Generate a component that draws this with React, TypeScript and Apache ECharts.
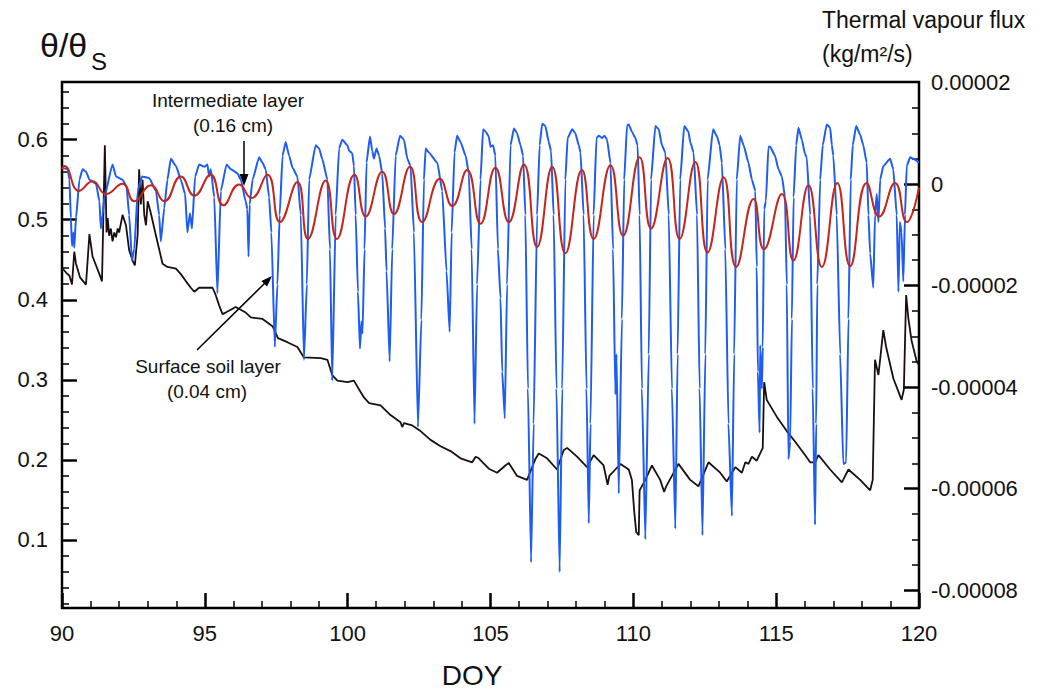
import React, { useEffect, useRef } from "react";
import * as echarts from "echarts";

// Surface soil layer (0.04 cm) – blue, [DOY, θ/θs]
const surfaceLayer: [number, number][] = [
  [90.0, 0.565], [90.2, 0.563], [90.26, 0.55], [90.31, 0.502], [90.35, 0.467], [90.4, 0.484], [90.43, 0.465], [90.49, 0.502], [90.61, 0.55], [90.72, 0.563], [90.84, 0.56], [90.96, 0.55],
  [91.19, 0.545], [91.31, 0.523], [91.36, 0.489], [91.42, 0.506], [91.48, 0.528], [91.77, 0.569], [91.89, 0.554], [92.12, 0.55], [92.26, 0.541], [92.35, 0.506], [92.45, 0.449], [92.53, 0.463],
  [92.65, 0.536], [92.8, 0.554], [93.05, 0.552], [93.29, 0.536], [93.4, 0.506], [93.46, 0.473], [93.58, 0.515], [93.69, 0.55], [93.81, 0.576], [93.99, 0.567], [94.16, 0.55], [94.31, 0.532],
  [94.39, 0.484], [94.48, 0.508], [94.55, 0.489], [94.66, 0.554], [94.8, 0.569], [94.98, 0.566], [95.09, 0.569], [95.15, 0.554], [95.21, 0.563], [95.33, 0.528], [95.44, 0.408], [95.56, 0.536],
  [95.76, 0.569], [95.91, 0.563], [96.14, 0.558], [96.26, 0.55], [96.43, 0.523], [96.49, 0.513], [96.53, 0.454], [96.57, 0.519], [96.67, 0.55], [96.9, 0.578], [97.02, 0.571], [97.13, 0.563],
  [97.25, 0.528], [97.33, 0.484], [97.45, 0.341], [97.54, 0.419], [97.62, 0.506], [97.72, 0.58], [97.83, 0.597], [97.95, 0.58], [98.07, 0.565], [98.24, 0.554], [98.36, 0.506], [98.47, 0.325],
  [98.57, 0.419], [98.65, 0.55], [98.88, 0.593], [99.0, 0.589], [99.11, 0.576], [99.29, 0.55], [99.38, 0.463], [99.46, 0.299], [99.58, 0.506], [99.7, 0.589], [99.81, 0.6], [99.99, 0.593],
  [100.05, 0.586], [100.16, 0.583], [100.22, 0.567], [100.28, 0.506], [100.36, 0.41], [100.43, 0.339], [100.48, 0.373], [100.52, 0.358], [100.59, 0.463], [100.66, 0.571], [100.78, 0.604],
  [100.86, 0.586], [100.92, 0.576], [101.01, 0.589], [101.1, 0.58], [101.21, 0.558], [101.31, 0.489], [101.36, 0.436], [101.47, 0.323], [101.56, 0.463], [101.68, 0.58], [101.83, 0.605],
  [101.97, 0.6], [102.09, 0.576], [102.2, 0.567], [102.32, 0.484], [102.46, 0.241], [102.58, 0.375], [102.67, 0.55], [102.73, 0.589], [102.84, 0.584], [103.14, 0.571], [103.31, 0.536],
  [103.46, 0.436], [103.57, 0.36], [103.64, 0.484], [103.74, 0.584], [103.83, 0.605], [103.95, 0.597], [104.13, 0.58], [104.24, 0.558], [104.34, 0.463], [104.44, 0.245], [104.53, 0.419],
  [104.65, 0.55], [104.74, 0.613], [104.83, 0.61], [104.94, 0.604], [105.0, 0.591], [105.09, 0.593], [105.17, 0.58], [105.26, 0.463], [105.35, 0.402], [105.41, 0.31], [105.5, 0.252],
  [105.58, 0.419], [105.7, 0.593], [105.82, 0.614], [105.93, 0.608], [106.05, 0.593], [106.14, 0.58], [106.22, 0.506], [106.31, 0.289], [106.42, 0.072], [106.51, 0.245], [106.63, 0.506],
  [106.72, 0.593], [106.81, 0.62], [106.92, 0.617], [107.04, 0.597], [107.12, 0.586], [107.21, 0.506], [107.31, 0.289], [107.42, 0.06], [107.51, 0.289], [107.62, 0.55], [107.7, 0.602],
  [107.86, 0.613], [107.97, 0.608], [108.09, 0.593], [108.15, 0.584], [108.26, 0.506], [108.36, 0.289], [108.44, 0.121], [108.5, 0.245], [108.61, 0.506], [108.71, 0.602], [108.79, 0.605],
  [108.9, 0.602], [108.99, 0.605], [109.08, 0.6], [109.2, 0.571], [109.29, 0.463], [109.37, 0.282], [109.41, 0.332], [109.49, 0.158], [109.6, 0.376], [109.68, 0.55], [109.78, 0.618],
  [109.84, 0.619], [109.95, 0.61], [110.07, 0.602], [110.15, 0.593], [110.22, 0.506], [110.3, 0.289], [110.42, 0.101], [110.54, 0.332], [110.62, 0.55], [110.77, 0.617], [110.89, 0.613],
  [111.0, 0.593], [111.12, 0.584], [111.24, 0.506], [111.35, 0.289], [111.47, 0.114], [111.55, 0.332], [111.64, 0.55], [111.78, 0.617], [111.93, 0.61], [111.99, 0.597], [112.11, 0.584],
  [112.23, 0.506], [112.32, 0.289], [112.42, 0.106], [112.52, 0.332], [112.6, 0.55], [112.79, 0.613], [112.93, 0.604], [113.02, 0.593], [113.1, 0.571], [113.22, 0.463], [113.33, 0.245],
  [113.45, 0.13], [113.53, 0.332], [113.62, 0.55], [113.74, 0.605], [113.86, 0.593], [114.03, 0.571], [114.15, 0.55], [114.27, 0.536], [114.32, 0.441], [114.36, 0.31], [114.42, 0.234],
  [114.44, 0.343], [114.5, 0.289], [114.53, 0.341], [114.58, 0.513], [114.64, 0.523], [114.73, 0.591], [114.79, 0.591], [114.96, 0.58], [115.08, 0.563], [115.2, 0.554], [115.31, 0.528],
  [115.37, 0.419], [115.43, 0.201], [115.49, 0.223], [115.55, 0.376], [115.61, 0.528], [115.7, 0.593], [115.78, 0.615], [115.9, 0.6], [116.01, 0.582], [116.07, 0.578], [116.19, 0.506],
  [116.28, 0.289], [116.36, 0.119], [116.4, 0.245], [116.44, 0.419], [116.54, 0.55], [116.63, 0.593], [116.77, 0.619], [116.89, 0.615], [116.95, 0.593], [117.0, 0.58], [117.12, 0.506],
  [117.24, 0.332], [117.35, 0.195], [117.45, 0.197], [117.53, 0.376], [117.61, 0.55], [117.68, 0.593], [117.8, 0.617], [117.94, 0.606], [118.05, 0.593], [118.17, 0.571], [118.23, 0.506],
  [118.29, 0.458], [118.4, 0.415], [118.46, 0.506], [118.52, 0.532], [118.58, 0.497], [118.64, 0.55], [118.75, 0.567], [118.99, 0.576], [119.1, 0.563], [119.22, 0.506], [119.28, 0.41],
  [119.33, 0.497], [119.39, 0.484], [119.45, 0.423], [119.51, 0.506], [119.57, 0.567], [119.69, 0.578], [119.8, 0.576], [120.0, 0.571],
];

// Intermediate layer (0.16 cm) – red, daily extremes [DOY, θ/θs]
const intermediateLayer: [number, number][] = [
  [90.0, 0.563], [90.08, 0.567], [90.6, 0.536], [91.07, 0.548], [91.54, 0.532], [92.12, 0.545], [92.53, 0.523], [93.11, 0.543], [93.58, 0.523], [94.16, 0.554], [94.63, 0.53],
  [95.2, 0.556], [95.65, 0.518], [96.2, 0.544], [96.63, 0.527], [97.19, 0.556], [97.63, 0.497], [98.24, 0.547], [98.61, 0.476], [99.23, 0.549], [99.62, 0.476],
  [100.24, 0.556], [100.63, 0.504], [101.21, 0.56], [101.62, 0.507], [102.18, 0.566], [102.61, 0.497], [103.23, 0.551], [103.66, 0.517], [104.18, 0.562], [104.65, 0.495],
  [105.17, 0.565], [105.64, 0.497], [106.17, 0.569], [106.63, 0.466], [107.16, 0.566], [107.62, 0.458], [108.2, 0.562], [108.61, 0.476], [109.2, 0.568], [109.64, 0.48],
  [110.22, 0.578], [110.62, 0.489], [111.2, 0.577], [111.62, 0.476], [112.17, 0.572], [112.6, 0.459], [113.16, 0.553], [113.6, 0.441], [114.21, 0.526], [114.57, 0.463],
  [115.2, 0.532], [115.6, 0.449], [116.13, 0.543], [116.6, 0.441], [117.14, 0.546], [117.59, 0.442], [118.17, 0.546], [118.61, 0.504], [119.16, 0.546], [119.57, 0.497], [120.0, 0.54],
];

// Black curve [DOY, value on left scale]
const blackCurve: [number, number][] = [
  [90.0, 0.44], [90.14, 0.434], [90.26, 0.43], [90.35, 0.419], [90.43, 0.46], [90.49, 0.445], [90.63, 0.428], [90.84, 0.419], [90.96, 0.482], [91.07, 0.454], [91.31, 0.432], [91.4, 0.423],
  [91.5, 0.593], [91.56, 0.484], [91.6, 0.502], [91.65, 0.48], [91.71, 0.489], [91.77, 0.473], [91.83, 0.484], [91.89, 0.478], [91.95, 0.489], [92.0, 0.484], [92.12, 0.506], [92.24, 0.493],
  [92.35, 0.462], [92.47, 0.449], [92.55, 0.443], [92.65, 0.482], [92.7, 0.563], [92.76, 0.519], [92.82, 0.55], [92.88, 0.506], [92.94, 0.493], [93.0, 0.523], [93.11, 0.508], [93.29, 0.48],
  [93.52, 0.445], [93.69, 0.441], [93.99, 0.439], [94.16, 0.432], [94.34, 0.423], [94.51, 0.415], [94.63, 0.41], [94.8, 0.415], [95.27, 0.415], [95.38, 0.406], [95.5, 0.393], [95.62, 0.382],
  [95.73, 0.384], [96.08, 0.391], [96.43, 0.384], [96.61, 0.378], [97.02, 0.376], [97.37, 0.367], [97.56, 0.352], [97.89, 0.347], [98.24, 0.341], [98.47, 0.328], [99.06, 0.327], [99.29, 0.325],
  [99.46, 0.306], [99.64, 0.299], [99.99, 0.297], [100.22, 0.299], [100.4, 0.288], [100.57, 0.278], [100.75, 0.271], [101.15, 0.268], [101.5, 0.256], [101.85, 0.247], [101.91, 0.241],
  [101.97, 0.246], [102.26, 0.243], [102.55, 0.236], [102.9, 0.225], [103.25, 0.217], [103.6, 0.211], [103.95, 0.202], [104.36, 0.197], [104.48, 0.204], [104.59, 0.202], [104.94, 0.189],
  [105.23, 0.184], [105.52, 0.193], [105.64, 0.196], [105.93, 0.18], [106.28, 0.175], [106.57, 0.201], [106.69, 0.208], [106.98, 0.202], [107.33, 0.188], [107.56, 0.212], [107.68, 0.215],
  [108.03, 0.204], [108.38, 0.191], [108.61, 0.206], [108.96, 0.193], [109.1, 0.169], [109.16, 0.18], [109.37, 0.188], [109.55, 0.195], [109.84, 0.188], [109.95, 0.175], [110.03, 0.136],
  [110.1, 0.11], [110.19, 0.106], [110.22, 0.162], [110.42, 0.175], [110.65, 0.193], [110.94, 0.175], [111.08, 0.16], [111.15, 0.167], [111.58, 0.195], [111.99, 0.175], [112.28, 0.167],
  [112.63, 0.197], [113.04, 0.184], [113.27, 0.173], [113.57, 0.191], [113.8, 0.184], [113.92, 0.197], [114.03, 0.195], [114.15, 0.204], [114.32, 0.199], [114.53, 0.215], [114.58, 0.297],
  [114.67, 0.275], [115.02, 0.254], [115.37, 0.236], [115.66, 0.223], [116.01, 0.206], [116.19, 0.197], [116.36, 0.197], [116.48, 0.206], [116.89, 0.188], [117.3, 0.172], [117.53, 0.188],
  [117.94, 0.175], [118.29, 0.162], [118.38, 0.175], [118.46, 0.325], [118.58, 0.306], [118.75, 0.362], [118.85, 0.341], [119.1, 0.302], [119.39, 0.275], [119.47, 0.288], [119.55, 0.406],
  [119.63, 0.376], [119.74, 0.349], [119.92, 0.323], [120.0, 0.318],
];

// Axis tick values
const thetaLabels = [0.1, 0.2, 0.3, 0.4, 0.5, 0.6];
const thetaMinor = [0.02, 0.04, 0.06, 0.08, 0.12, 0.14, 0.16, 0.18, 0.22, 0.24, 0.26, 0.28, 0.32, 0.34, 0.36, 0.38, 0.42, 0.44, 0.46, 0.48, 0.52, 0.54, 0.56, 0.58, 0.62, 0.64, 0.66];
const fluxLabels = [0.00002, 0, -0.00002, -0.00004, -0.00006, -0.00008];
const fluxMajor = [0, -0.00002, -0.00004, -0.00006, -0.00008];
const fluxMinor = [0.000015, 0.00001, 0.000005, -0.000005, -0.00001, -0.000015, -0.000025, -0.00003, -0.000035, -0.000045, -0.00005, -0.000055, -0.000065, -0.00007, -0.000075];

const FONT = "'Liberation Sans', Arial, Helvetica, sans-serif";

export default function App() {
  const ref = useRef<HTMLDivElement>(null);
  useEffect(() => {
    if (!ref.current) return;
    const chart = echarts.init(ref.current, undefined, { renderer: "svg" });
    const thetaMin = 0.015, thetaMax = 0.672;
    const fluxMin = -0.0000835, fluxMax = 0.0000201;
    const labelStyle = { color: "#111", fontSize: 22, fontFamily: FONT };
    const annot = { fontSize: 19, fontFamily: FONT, fill: "#111", align: "center", verticalAlign: "middle" };
    chart.setOption({
      animation: false,
      backgroundColor: "#fff",
      grid: { left: 62, top: 82, width: 857, height: 526, show: true, borderColor: "#000", borderWidth: 2.5, backgroundColor: "transparent" },
      xAxis: {
        type: "value", min: 90, max: 120, interval: 5,
        axisLine: { show: false, onZero: false },
        splitLine: { show: false },
        axisTick: { show: true, inside: true, length: 15, lineStyle: { color: "#000", width: 2.5 } },
        minorTick: { show: true, splitNumber: 5, length: 7, lineStyle: { color: "#000", width: 1.5 } },
        axisLabel: { ...labelStyle, margin: 14 },
      },
      yAxis: [
        {
          type: "value", position: "left", min: thetaMin, max: thetaMax,
          axisLine: { show: false, onZero: false }, splitLine: { show: false },
          axisTick: { show: true, inside: true, length: 15, customValues: thetaLabels, lineStyle: { color: "#000", width: 2.5 } },
          axisLabel: { ...labelStyle, margin: 14, customValues: thetaLabels, formatter: (v: number) => v.toFixed(1) },
        },
        {
          type: "value", position: "left", min: thetaMin, max: thetaMax,
          axisLine: { show: false, onZero: false }, splitLine: { show: false },
          axisTick: { show: true, inside: true, length: 7, customValues: thetaMinor, lineStyle: { color: "#000", width: 1.5 } },
          axisLabel: { show: false },
        },
        {
          type: "value", position: "right", min: fluxMin, max: fluxMax,
          axisLine: { show: false, onZero: false }, splitLine: { show: false },
          axisTick: { show: true, inside: true, length: 15, customValues: fluxMajor, lineStyle: { color: "#000", width: 2.5 } },
          axisLabel: {
            ...labelStyle, margin: 12, customValues: fluxLabels,
            formatter: (v: number) => (Math.abs(v) < 1e-12 ? "0" : (v < 0 ? "-" : "") + Math.abs(v).toFixed(5)),
          },
        },
        {
          type: "value", position: "right", min: fluxMin, max: fluxMax,
          axisLine: { show: false, onZero: false }, splitLine: { show: false },
          axisTick: { show: true, inside: true, length: 7, customValues: fluxMinor, lineStyle: { color: "#000", width: 1.5 } },
          axisLabel: { show: false },
        },
      ],
      series: [
        { name: "black", type: "line", yAxisIndex: 0, data: blackCurve, showSymbol: false, symbol: "none", lineStyle: { color: "#1c0f0f", width: 1.8 }, z: 2 },
        { name: "Surface soil layer (0.04 cm)", type: "line", yAxisIndex: 0, data: surfaceLayer, showSymbol: false, symbol: "none", smooth: 0.15, smoothMonotone: "x", lineStyle: { color: "#1f5cf2", width: 2 }, z: 3 },
        { name: "Intermediate layer (0.16 cm)", type: "line", yAxisIndex: 0, data: intermediateLayer, showSymbol: false, symbol: "none", smooth: 0.5, lineStyle: { color: "#c4261c", width: 2 }, z: 4 },
      ],
      graphic: [
        { type: "text", left: 40, top: 28, style: { text: "θ/θ", fontSize: 34, fontFamily: FONT, fill: "#111" } },
        { type: "text", left: 91, top: 49, style: { text: "S", fontSize: 24, fontFamily: FONT, fill: "#111" } },
        { type: "text", left: 822, top: 8, style: { text: "Thermal vapour flux", fontSize: 23, fontFamily: FONT, fill: "#111" } },
        { type: "text", left: 822, top: 42, style: { text: "(kg/m²/s)", fontSize: 23, fontFamily: FONT, fill: "#111" } },
        { type: "text", x: 472, y: 675, style: { text: "DOY", fontSize: 28, fontFamily: FONT, fill: "#111", align: "center", verticalAlign: "middle" } },
        { type: "text", x: 228, y: 100, style: { text: "Intermediate layer", ...annot } },
        { type: "text", x: 233, y: 125, style: { text: "(0.16 cm)", ...annot } },
        { type: "line", shape: { x1: 244, y1: 141, x2: 244, y2: 177 }, style: { stroke: "#000", lineWidth: 1.5 } },
        { type: "polygon", shape: { points: [[239.5, 174], [248.5, 174], [244, 186]] }, style: { fill: "#000" } },
        { type: "text", x: 208, y: 366, style: { text: "Surface soil layer", ...annot } },
        { type: "text", x: 207, y: 391, style: { text: "(0.04 cm)", ...annot } },
        { type: "line", shape: { x1: 197, y1: 350, x2: 266, y2: 282 }, style: { stroke: "#000", lineWidth: 1.5 } },
        { type: "polygon", shape: { points: [[272, 276], [267, 286.5], [261.4, 280.9]] }, style: { fill: "#000" } },
      ],
    });
    return () => chart.dispose();
  }, []);
  return <div ref={ref} style={{ position: "fixed", left: 0, top: 0, width: 1048, height: 689, background: "#fff" }} />;
}
